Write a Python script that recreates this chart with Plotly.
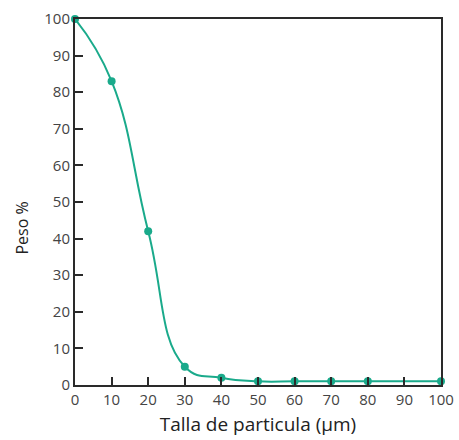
import plotly.graph_objects as go

sizes = [0, 10, 20, 30, 40, 50, 60, 70, 80, 100]
weights = [100, 83, 42, 5, 2, 1, 1, 1, 1, 1]
tick_vals = [0, 10, 20, 30, 40, 50, 60, 70, 80, 90, 100]

color = "#1aaa8b"
fig = go.Figure()
fig.add_trace(go.Scatter(
    x=sizes, y=weights, mode="lines+markers",
    line=dict(color=color, width=2, shape="spline", smoothing=1.3),
    marker=dict(color=color, size=8),
    cliponaxis=False,
    showlegend=False,
))
axis_common = dict(
    showgrid=False, zeroline=False, showline=True, linecolor="#2a2a2a", linewidth=2,
    mirror=True, ticks="inside", ticklen=8, tickwidth=2, tickcolor="#2a2a2a",
    tickfont=dict(family="Open Sans", size=15, color="#444"),
    automargin=False,
)
fig.update_xaxes(range=[0, 100], tickvals=tick_vals,
                 title=dict(text="Talla de particula (μm)", font=dict(family="Open Sans", size=19, color="#222"), standoff=10),
                 **axis_common)
fig.update_yaxes(range=[0, 100], tickvals=tick_vals, **axis_common)
fig.add_annotation(
    text="Peso %", textangle=-90, xref="paper", yref="paper",
    x=-0.145, y=0.43, showarrow=False, xanchor="center", yanchor="middle",
    font=dict(family="Open Sans", size=16, color="#222"),
)
fig.update_layout(
    width=459, height=440,
    margin=dict(l=75, r=18, t=19, b=55, pad=0),
    plot_bgcolor="white", paper_bgcolor="white",
)
fig.write_html("out.html")
